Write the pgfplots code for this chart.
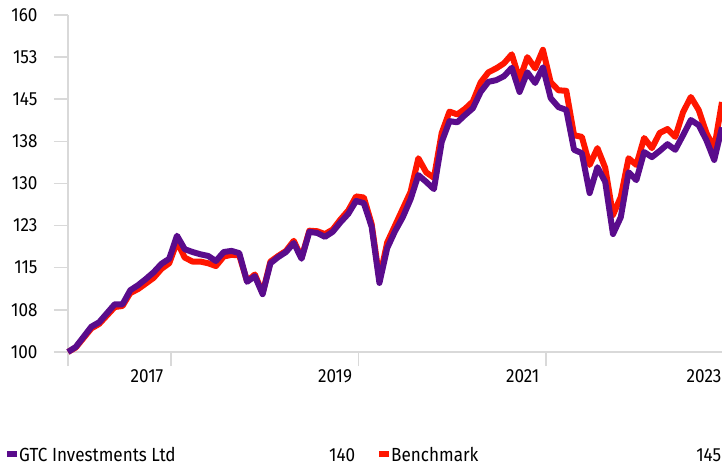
\documentclass[border=0pt]{standalone}
\usepackage{pgfplots}
\pgfplotsset{compat=1.18}
\usepackage{fontspec}
\setmainfont{Fira Sans}[FakeStretch=0.9]
\definecolor{gtc}{RGB}{90,12,140}
\definecolor{bench}{RGB}{255,22,0}
\definecolor{axgray}{RGB}{217,217,217}
\begin{document}
\fontsize{19bp}{23bp}\selectfont
\begin{tikzpicture}
\useasboundingbox (0,0) rectangle (722bp,467bp);
\begin{axis}[
  at={(68bp,115bp)}, anchor=south west,
  width=654bp, height=337bp, scale only axis,
  xmin=0, xmax=84, ymin=100, ymax=160,
  axis x line*=bottom, axis y line*=left,
  axis line style={axgray, line width=1.5bp},
  every tick/.style={axgray, line width=1.5bp},
  tick align=outside,
  major tick length=14bp,
  ytick={100,107.5,115,122.5,130,137.5,145,152.5,160},
  yticklabels={100,108,115,123,130,138,145,153,160},
  yticklabel style={anchor=east, xshift=-10bp, font=\fontsize{19bp}{23bp}\selectfont},
  xtick={0,13.2,37.3,61.4},
  xticklabels={},
  extra x ticks={10.15,34.3,58.4,81.7},
  extra x tick labels={2017,2019,2021,2023},
  extra x tick style={major tick length=0pt, xticklabel style={anchor=north, yshift=-11bp, font=\fontsize{19bp}{23bp}\selectfont}},
  clip=false,
  legend columns=2,
  legend style={at={(0,0)}, anchor=south west, xshift=-61bp, yshift=-115bp,
    draw=none, fill=none, inner sep=0pt,
    font=\fontsize{19bp}{23bp}\selectfont,
    /tikz/every even column/.append style={column sep=22bp},
    cells={anchor=west}},
  legend image code/.code={\fill[#1, draw=none] (0bp,-1bp) rectangle (10bp,5bp);},
]
\addlegendimage{gtc, fill=gtc}
\addlegendentry{\makebox[336bp][l]{GTC Investments Ltd\hfill 140}}
\addlegendimage{bench, fill=bench}
\addlegendentry{\makebox[330bp][l]{Benchmark\hfill 145}}

\addplot[bench, line width=6bp, line join=round, forget plot] coordinates {
(0,100.0)(1,100.8)(2,102.5)(3,104.2)(4,105.0)(5,106.5)(6,108.0)(7,108.2)(8,110.5)(9,111.2)(10,112.2)(11,113.2)(12,114.8)(13,115.8)(14,119.6)(15,116.8)(16,116.1)(17,116.1)(18,115.8)(19,115.3)(20,117.0)(21,117.3)(22,117.2)(23,112.6)(24,113.8)(25,110.5)(26,116.1)(27,117.1)(28,118.0)(29,119.8)(30,116.8)(31,121.6)(32,121.5)(33,121.0)(34,121.8)(35,123.6)(36,125.2)(37,127.7)(38,127.5)(39,122.8)(40,113.0)(41,119.5)(42,122.5)(43,125.5)(44,128.5)(45,134.5)(46,132.0)(47,131.0)(48,139.0)(49,142.8)(50,142.3)(51,143.3)(52,144.6)(53,148.0)(54,149.8)(55,150.5)(56,151.4)(57,153.0)(58,148.5)(59,152.5)(60,150.5)(61,153.8)(62,148.0)(63,146.6)(64,146.5)(65,138.6)(66,138.3)(67,133.3)(68,136.3)(69,132.8)(70,124.4)(71,127.6)(72,134.5)(73,133.3)(74,138.1)(75,136.3)(76,139.0)(77,139.7)(78,138.3)(79,142.7)(80,145.4)(81,143.1)(82,139.0)(83,136.3)(84,144.5)
};
\addplot[gtc, line width=6bp, line join=round, forget plot] coordinates {
(0,100.0)(1,100.9)(2,102.7)(3,104.5)(4,105.3)(5,106.9)(6,108.5)(7,108.5)(8,111.0)(9,111.9)(10,113.0)(11,114.2)(12,115.7)(13,116.6)(14,120.7)(15,118.3)(16,117.8)(17,117.4)(18,117.1)(19,116.2)(20,117.8)(21,118.0)(22,117.6)(23,112.5)(24,113.5)(25,110.3)(26,115.8)(27,116.9)(28,117.8)(29,119.4)(30,116.6)(31,121.4)(32,121.2)(33,120.5)(34,121.4)(35,123.1)(36,124.6)(37,126.9)(38,126.5)(39,122.3)(40,112.3)(41,118.5)(42,121.5)(43,124.0)(44,127.2)(45,131.5)(46,130.3)(47,129.0)(48,137.4)(49,141.1)(50,140.9)(51,142.2)(52,143.4)(53,146.3)(54,148.1)(55,148.4)(56,149.1)(57,150.6)(58,146.3)(59,149.8)(60,147.9)(61,150.7)(62,145.2)(63,143.6)(64,143.1)(65,136.0)(66,135.4)(67,128.3)(68,132.9)(69,130.3)(70,121.0)(71,124.0)(72,132.0)(73,130.6)(74,135.6)(75,134.7)(76,135.8)(77,137.0)(78,136.0)(79,138.6)(80,141.3)(81,140.4)(82,137.7)(83,134.2)(84,140.0)
};
\end{axis}
\end{tikzpicture}
\end{document}
